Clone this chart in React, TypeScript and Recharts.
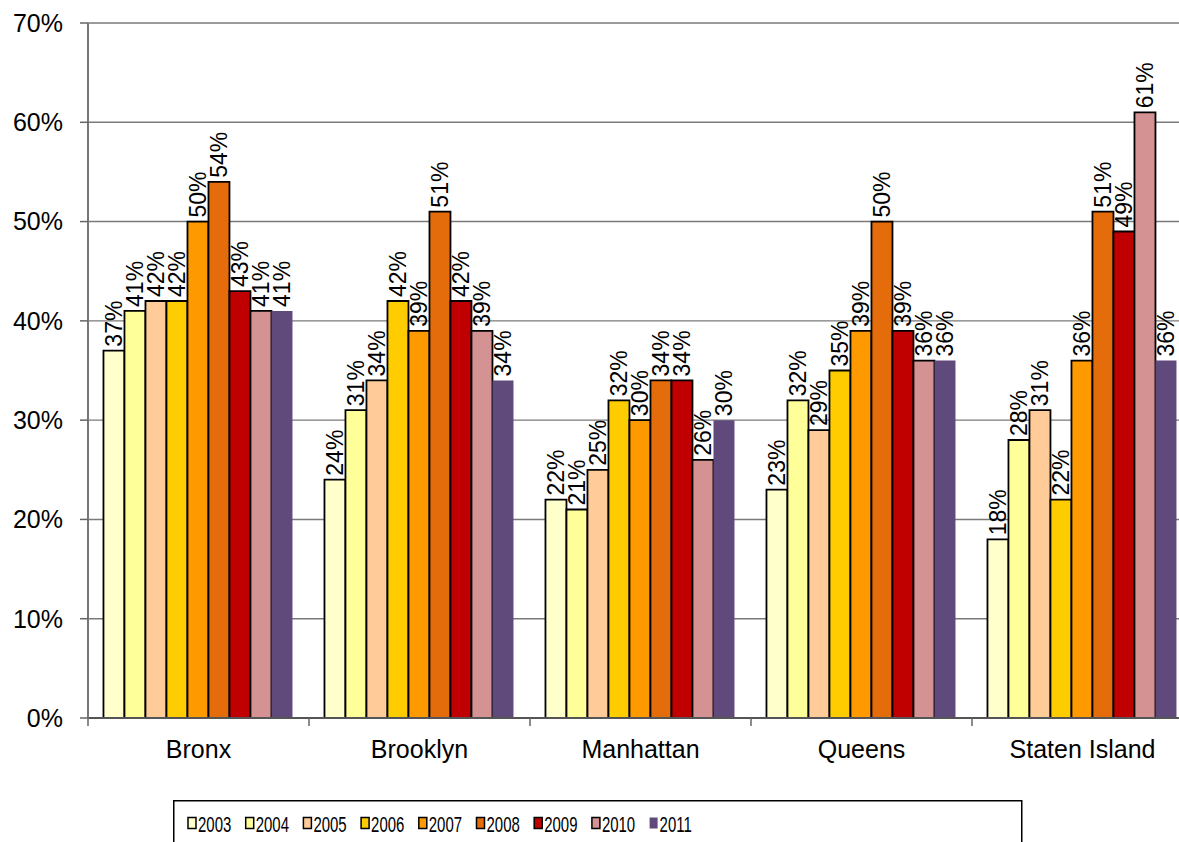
import { BarChart, Bar, XAxis, YAxis, CartesianGrid, Legend, LabelList } from 'recharts'

const boroughs = ['Bronx', 'Brooklyn', 'Manhattan', 'Queens', 'Staten Island']
const years = ['2003', '2004', '2005', '2006', '2007', '2008', '2009', '2010', '2011']

// share by borough, one array per year (percent)
const y2003 = [37, 24, 22, 23, 18]
const y2004 = [41, 31, 21, 32, 28]
const y2005 = [42, 34, 25, 29, 31]
const y2006 = [42, 42, 32, 35, 22]
const y2007 = [50, 39, 30, 39, 36]
const y2008 = [54, 51, 34, 50, 51]
const y2009 = [43, 42, 34, 39, 49]
const y2010 = [41, 39, 26, 36, 61]
const y2011 = [41, 34, 30, 36, 36]

const yTicks = [0, 10, 20, 30, 40, 50, 60, 70]

const seriesValues = [y2003, y2004, y2005, y2006, y2007, y2008, y2009, y2010, y2011]
const colors = ['#FFFFCC', '#FFFF99', '#FFCC99', '#FFCC00', '#FF9900', '#E46C0A', '#C00000', '#D59292', '#604A7B']

const data = boroughs.map((name, i) => {
  const row: Record<string, string | number> = { name }
  years.forEach((yr, j) => {
    row[yr] = seriesValues[j][i]
  })
  return row
})

const FONT = '"Liberation Sans", Arial, sans-serif'

function RotatedLabel(props: any) {
  const { x, y, width, value } = props
  const cx = x + width / 2
  const cy = y - 4
  return (
    <text
      x={cx}
      y={cy}
      transform={`rotate(-90 ${cx} ${cy})`}
      textAnchor="start"
      dominantBaseline="central"
      style={{ fontSize: 23, fontFamily: FONT }}
      fill="#000"
    >
      {value}%
    </text>
  )
}

function CategoryTick(props: any) {
  const { x, y, payload, width, visibleTicksCount, index } = props
  const half = width / visibleTicksCount / 2
  const axisY = y - 8
  return (
    <g>
      <line x1={x - half} x2={x - half} y1={axisY} y2={axisY + 8} stroke="#666" strokeWidth={1.5} />
      {index === visibleTicksCount - 1 && (
        <line x1={x + half} x2={x + half} y1={axisY} y2={axisY + 8} stroke="#666" strokeWidth={1.5} />
      )}
      <text x={x} y={y + 32} textAnchor="middle" style={{ fontSize: 25, fontFamily: FONT }} fill="#000">
        {payload.value}
      </text>
    </g>
  )
}

// legend text is narrow, so each label is squeezed horizontally
function YearLegend(props: any) {
  const payload = props.payload || []
  return (
    <svg width={860} height={50} style={{ display: 'block' }}>
      <rect x={0.75} y={0.75} width={848} height={60} fill="#fff" stroke="#000" strokeWidth={1.5} />
      {payload.map((p: any, i: number) => {
        const x0 = 15 + i * 57.7
        const noBorder = i === payload.length - 1
        return (
          <g key={p.value}>
            <rect
              x={x0}
              y={17.5}
              width={8}
              height={11}
              fill={p.color}
              stroke={noBorder ? 'none' : '#000'}
              strokeWidth={1.5}
            />
            <text
              transform={`translate(${x0 + 10} 32) scale(0.68 1)`}
              fill="#000"
              style={{ fontSize: 22, fontFamily: FONT }}
            >
              {p.value}
            </text>
          </g>
        )
      })}
    </svg>
  )
}

export default function App() {
  return (
    <div
      style={{
        position: 'absolute',
        left: 0,
        top: 0,
        width: 1179,
        height: 842,
        overflow: 'hidden',
        background: '#fff',
        fontFamily: FONT,
      }}
    >
      <BarChart
        width={1196}
        height={842}
        data={data}
        margin={{ top: 23, right: 3, bottom: 80, left: 0 }}
        barCategoryGap="7%"
        barGap={0}
      >
        <CartesianGrid vertical={false} stroke="#7a7a7a" strokeWidth={1.4} />
        <XAxis
          dataKey="name"
          height={44}
          tickLine={false}
          tickSize={8}
          tickMargin={0}
          axisLine={{ stroke: '#555', strokeWidth: 1.8 }}
          tick={<CategoryTick />}
          interval={0}
        />
        <YAxis
          width={88}
          domain={[0, 70]}
          ticks={yTicks}
          tickFormatter={(v: number) => `${v}%`}
          tick={{ fontSize: 25, fill: '#000', fontFamily: FONT }}
          tickSize={8}
          tickMargin={17}
          tickLine={{ stroke: '#666', strokeWidth: 1.5 }}
          axisLine={{ stroke: '#777', strokeWidth: 2 }}
          interval={0}
        />
        <Legend
          layout="horizontal"
          verticalAlign="middle"
          wrapperStyle={{ top: 800, left: 173, width: 860, height: 50 }}
          content={<YearLegend />}
        />
        {years.map((yr, j) => (
          <Bar
            key={yr}
            dataKey={yr}
            name={yr}
            fill={colors[j]}
            stroke={j === years.length - 1 ? 'none' : '#000'}
            strokeWidth={1.8}
            isAnimationActive={false}
          >
            <LabelList dataKey={yr} content={<RotatedLabel />} />
          </Bar>
        ))}
      </BarChart>
    </div>
  )
}
